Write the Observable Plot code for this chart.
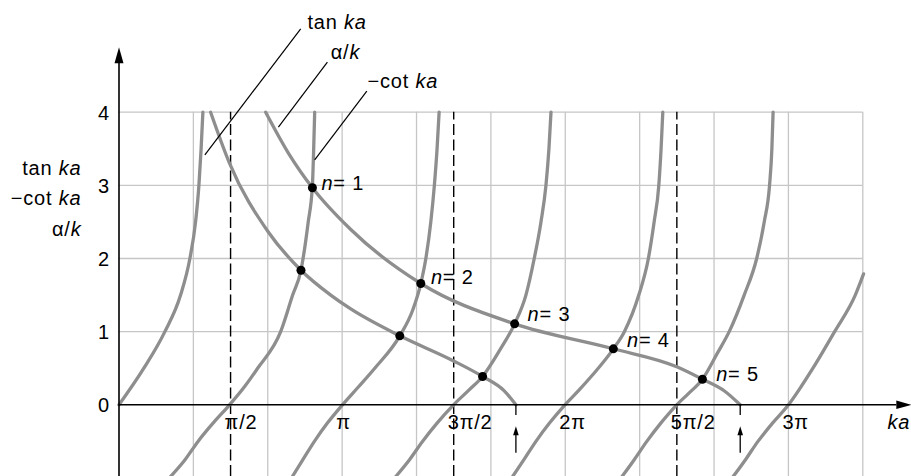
<!DOCTYPE html>
<html>
<head>
<meta charset="utf-8">
<script src="https://cdn.jsdelivr.net/npm/d3@7"></script>
<script src="https://cdn.jsdelivr.net/npm/@observablehq/plot@0.6"></script>
<style>
  html, body { margin: 0; padding: 0; background: #fff; }
  #chart svg { display: block; }
</style>
</head>
<body>
<div id="chart"></div>
<script>
const PI = Math.PI;

// ---- tan ka / -cot ka branches, [ka, value] ----
const branchTan0 = [[0,0],[0.350,0.5],[0.646,1],[0.867,1.5],[0.998,2],[1.078,2.5],[1.125,3],[1.156,3.5],[1.181,4]];
const branchCot1 = [[0.726,-0.98],[0.930,-0.75],[1.113,-0.5],[1.325,-0.25],[1.557,0],[1.769,0.25],[1.952,0.5],[2.276,1],[2.445,1.5],[2.562,1.84],[2.664,2.5],[2.723,3],[2.741,3.5],[2.755,4]];
const branchTan1 = [[2.441,-0.98],[2.589,-0.75],[2.751,-0.5],[2.934,-0.25],[3.146,0],[3.376,0.25],[3.601,0.5],[3.953,0.943],[4.137,1.3],[4.249,1.658],[4.320,2],[4.390,2.5],[4.440,3],[4.478,3.5],[4.507,4]];
const branchCot2 = [[3.897,-0.98],[4.090,-0.75],[4.273,-0.5],[4.478,-0.25],[4.710,0],[4.926,0.2],[5.119,0.387],[5.363,0.75],[5.570,1.107],[5.729,1.5],[5.846,2],[5.941,2.5],[6.011,3],[6.053,3.5],[6.082,4]];
const branchTan2 = [[5.542,-0.98],[5.701,-0.75],[5.870,-0.5],[6.061,-0.25],[6.279,0],[6.476,0.2],[6.660,0.4],[6.960,0.765],[7.115,1],[7.318,1.5],[7.453,2],[7.534,2.5],[7.600,3],[7.632,3.5],[7.656,4]];
const branchCot3 = [[7.082,-0.98],[7.254,-0.75],[7.431,-0.5],[7.628,-0.25],[7.853,0],[8.013,0.15],[8.214,0.35],[8.421,0.7],[8.591,1],[8.802,1.5],[8.978,2],[9.084,2.5],[9.159,3],[9.192,3.5],[9.209,4]];
const branchTan3 = [[8.647,-0.98],[8.820,-0.75],[8.996,-0.5],[9.201,-0.25],[9.426,0],[9.605,0.25],[9.770,0.5],[10.075,1],[10.366,1.5],[10.483,1.79]];

// ---- alpha/k curves ----
const alphaUpper = [[2.065,4.0],[2.389,3.435],[2.723,2.967],[3.263,2.396],[4.249,1.658],[5.570,1.107],[6.960,0.766],[7.853,0.52],[8.214,0.350],[8.524,0.189],[8.746,0]];
const alphaLower = [[1.29,4.0],[1.557,3.30],[2.097,2.37],[2.562,1.84],[2.981,1.50],[3.263,1.31],[3.953,0.943],[4.71,0.60],[5.119,0.387],[5.424,0.19],[5.588,0]];

// ---- intersections ----
const dotKa = [2.723, 4.249, 5.57, 6.96, 8.214, 2.562, 3.953, 5.119];
const dotY  = [2.967, 1.658, 1.107, 0.765, 0.35, 1.84, 0.943, 0.387];
const nLabels  = ["_n_= 1", "_n_= 2", "_n_= 3", "_n_= 4", "_n_= 5"];
const nLabelKa = [2.850, 4.391, 5.753, 7.153, 8.407];
const nLabelY  = [3.029, 1.744, 1.234, 0.879, 0.414];

// ---- ticks, grid, asymptotes ----
const xTicks = [PI/2, PI, 3*PI/2, 2*PI, 5*PI/2, 3*PI];
const xTickLabels = ["π/2", "π", "3π/2", "2π", "5π/2", "3π"];
const yTicks = [0, 1, 2, 3, 4];
const gridX = [PI/3, 2*PI/3, PI, 4*PI/3, 5*PI/3, 2*PI, 7*PI/3, 8*PI/3, 3*PI, 10*PI/3];
const gridY = [1, 2, 3, 4];
const asymptotes = [PI/2, 3*PI/2, 5*PI/2];
const kaEnds = [5.588, 8.746];

// ---- callouts ----
const calloutText = ["tan _ka_", "α/_k_", "−cot _ka_"];
const calloutTextKa = [2.653, 2.981, 3.498];
const calloutTextY = [5.140, 4.730, 4.328];
const leaderFrom = [[2.558, 5.140], [2.934, 4.684], [3.489, 4.287]];
const leaderTo   = [[1.209, 3.418], [2.244, 3.795], [2.755, 3.349]];
const yAxisTitle = ["tan _ka_", "−cot _ka_", "α/_k_"];
const yAxisTitleY = [3.148, 2.738, 2.305];
const xAxisTitle = "_ka_";

const yMin = -0.98, yMax = 4, xMax = 10*PI/3;

const branches = [branchTan0, branchCot1, branchTan1, branchCot2, branchTan2, branchCot3, branchTan3, alphaUpper, alphaLower];
const curveData = branches.flatMap((b, i) => b.map(([ka, v]) => ({id: i, ka, v})));
const dots = dotKa.map((ka, i) => ({ka, y: dotY[i]}));
const nData = nLabels.map((t, i) => ({t, ka: nLabelKa[i], y: nLabelY[i]}));
const ticksData = xTicks.map((x, i) => ({x, t: xTickLabels[i]}));
const callouts = calloutText.map((t, i) => ({t, ka: calloutTextKa[i], y: calloutTextY[i],
  x1: leaderFrom[i][0], y1: leaderFrom[i][1], x2: leaderTo[i][0], y2: leaderTo[i][1]}));
const titleData = yAxisTitle.map((t, i) => ({t, y: yAxisTitleY[i]}));

const head = (len, hw) => ({draw(ctx) { ctx.moveTo(0, -len); ctx.lineTo(hw, 0); ctx.lineTo(-hw, 0); ctx.closePath(); }});

const FS = 20;
const gray = "#8e8e8e", gridC = "#c6c6c6";

const chart = Plot.plot({
  width: 911, height: 476,
  marginLeft: 118.5, marginRight: 48.7, marginTop: 111.7, marginBottom: 0,
  x: {domain: [0, xMax], axis: null},
  y: {domain: [yMin, yMax], axis: null},
  style: {fontFamily: "'Liberation Sans', Arial, Helvetica, sans-serif", background: "white", overflow: "visible", letterSpacing: "0.8px"},
  marks: [
    Plot.ruleX(gridX, {y1: yMin, y2: yMax, stroke: gridC, strokeWidth: 1.3}),
    Plot.ruleY(gridY, {x1: 0, x2: xMax, stroke: gridC, strokeWidth: 1.3}),
    Plot.ruleX(asymptotes, {y1: yMin, y2: yMax, stroke: "#000", strokeWidth: 1.4, strokeDasharray: "11,4.5"}),
    Plot.line(curveData, {x: "ka", y: "v", z: "id", curve: "monotone-x", stroke: gray, strokeWidth: 3.3}),
    // axes
    Plot.ruleY([0], {x1: 0, x2: 10.95, stroke: "#000", strokeWidth: 1.4}),
    Plot.ruleX([0], {y1: yMin, y2: 4.7, stroke: "#000", strokeWidth: 1.6}),
    Plot.dot([0], {x: 0, y: 4.67, r: 3, symbol: head(16, 4.5), fill: "#000"}),
    Plot.dot([0], {x: 10.944, y: 0, r: 3, symbol: head(15, 4.3), fill: "#000", rotate: 90}),
    // end markers of alpha/k
    Plot.ruleX(kaEnds, {y1: 0, y2: -0.146, stroke: "#000", strokeWidth: 1.3}),
    Plot.ruleX(kaEnds, {y1: -0.40, y2: -0.662, stroke: "#000", strokeWidth: 1.3}),
    Plot.dot(kaEnds, {x: d => d, y: -0.416, r: 2, symbol: head(9, 2.8), fill: "#000"}),
    // intersections
    Plot.dot(dots, {x: "ka", y: "y", r: 4.5, fill: "#000"}),
    Plot.text(nData, {x: "ka", y: "y", text: "t", textAnchor: "start", fontSize: FS, fill: "#000"}),
    // tick labels
    Plot.text(ticksData, {x: "x", y: 0, text: "t", textAnchor: "start", dx: -6, dy: 23.7, lineAnchor: "bottom", fontSize: FS, fill: "#000"}),
    Plot.text(yTicks, {x: 0, y: d => d, text: d => String(d), textAnchor: "end", dx: -9, dy: 1, fontSize: FS, fill: "#000"}),
    Plot.text([xAxisTitle], {x: 10.82, y: 0, text: d => d, textAnchor: "start", dy: 24, lineAnchor: "bottom", fontSize: FS, fill: "#000", style: {letterSpacing: "0px"}}),
    // callouts
    Plot.link(callouts, {x1: "x1", y1: "y1", x2: "x2", y2: "y2", stroke: "#000", strokeWidth: 1.2}),
    Plot.text(callouts, {x: "ka", y: "y", text: "t", textAnchor: "start", lineAnchor: "bottom", fontSize: FS, fill: "#000"}),
    Plot.text(titleData, {x: -0.5285, y: "y", text: "t", textAnchor: "end", lineAnchor: "bottom", fontSize: FS, fill: "#000"})
  ]
});

// italic segments marked with underscores
chart.querySelectorAll("text").forEach(t => {
  const s = t.textContent;
  if (!s.includes("_")) return;
  const parts = s.split("_");
  t.textContent = "";
  parts.forEach((p, i) => {
    if (!p) return;
    const ts = document.createElementNS("http://www.w3.org/2000/svg", "tspan");
    ts.textContent = p;
    if (i % 2) ts.setAttribute("font-style", "italic");
    t.appendChild(ts);
  });
});

document.getElementById("chart").appendChild(chart);
</script>
</body>
</html>
